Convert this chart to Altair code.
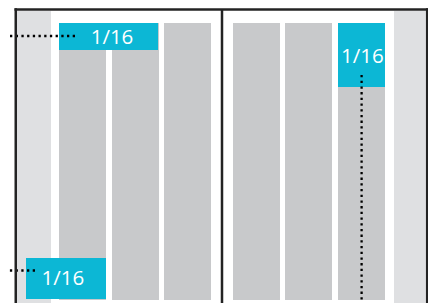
import altair as alt
import pandas as pd

W, H = 420, 295

# ---- diagram data (diagram units) ----
# light side strips
strip_x1 = [9, 386]
strip_x2 = [43, 418.5]
strip_y1 = [2.75, 2.75]
strip_y2 = [300, 300]

# six grey columns
col_names = ["c1", "c2", "c3", "c4", "c5", "c6"]
col_x1 = [51, 104, 156, 225, 277, 330]
col_x2 = [98, 151, 203, 272, 324, 377]
col_y1 = [15, 15, 15, 15, 15, 15]
col_y2 = [292, 292, 292, 292, 292, 292]

# highlighted 1/16 blocks
block_labels = ["1/16", "1/16", "1/16"]
block_x1 = [51, 330, 18]
block_x2 = [150, 377, 98]
block_y1 = [15, 15, 250]
block_y2 = [42, 79, 291]
label_x = [104, 354.3, 54.8]
label_y = [36, 55.3, 277]

# dotted leader lines
leader_x1 = [67, 353.6, 27]
leader_x2 = [-8, 353.6, -8]
leader_y1 = [28, 67, 262.5]
leader_y2 = [28, 300, 262.5]

# frame lines: left, right, top, divider
frame_x1 = [7.75, 419.2, 6.5, 214]
frame_x2 = [7.75, 419.2, 421.5, 214]
frame_y1 = [0.25, 0.25, 1.5, 1.5]
frame_y2 = [300, 300, 1.5, 300]

xs = alt.Scale(domain=[0, W], nice=False, zero=False)
ys = alt.Scale(domain=[0, H], nice=False, zero=False, reverse=True)


def enc(chart):
    return chart.encode(
        x=alt.X("x1:Q", scale=xs, axis=None),
        x2="x2:Q",
        y=alt.Y("y1:Q", scale=ys, axis=None),
        y2="y2:Q",
    )


strips = enc(alt.Chart(pd.DataFrame({"x1": strip_x1, "x2": strip_x2, "y1": strip_y1, "y2": strip_y2}))
             .mark_rect(color="#dfe0e2"))
cols = enc(alt.Chart(pd.DataFrame({"name": col_names, "x1": col_x1, "x2": col_x2, "y1": col_y1, "y2": col_y2}))
           .mark_rect(color="#c8c9cb"))
blocks = enc(alt.Chart(pd.DataFrame({"x1": block_x1, "x2": block_x2, "y1": block_y1, "y2": block_y2}))
             .mark_rect(color="#0cb7d5"))
frame = enc(alt.Chart(pd.DataFrame({"x1": frame_x1, "x2": frame_x2, "y1": frame_y1, "y2": frame_y2}))
            .mark_rule(color="#232323", strokeWidth=2.5))
leaders = enc(alt.Chart(pd.DataFrame({"x1": leader_x1, "x2": leader_x2, "y1": leader_y1, "y2": leader_y2}))
              .mark_rule(color="#000000", strokeWidth=2.3, strokeDash=[2.3, 3.4]))
labels = alt.Chart(pd.DataFrame({"label": block_labels, "x": label_x, "y": label_y})).mark_text(
    font="Open Sans", fontSize=20.5, color="white", align="center", baseline="alphabetic"
).encode(
    x=alt.X("x:Q", scale=xs, axis=None),
    y=alt.Y("y:Q", scale=ys, axis=None),
    text="label:N",
)

chart = alt.layer(strips, cols, blocks, leaders, labels, frame).properties(
    width=W, height=H, padding=0, autosize=alt.AutoSizeParams(type="none"), background="white"
).configure_view(stroke=None)

chart.save("out.html", embed_options={"renderer": "svg", "actions": False})
